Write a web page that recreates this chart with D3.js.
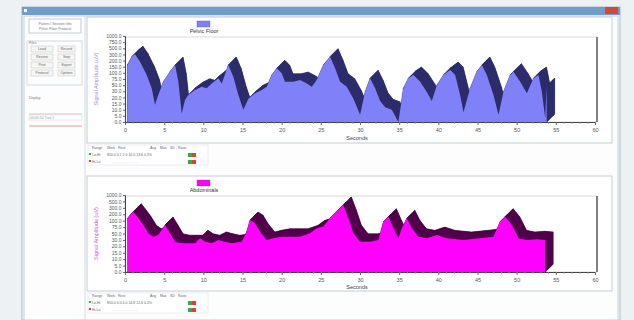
<!DOCTYPE html>
<html>
<head>
<meta charset="utf-8">
<script src="https://cdn.jsdelivr.net/npm/d3@7"></script>
<style>
  html, body { margin: 0; padding: 0; background: #eef1f4; }
  svg { display: block; font-family: "Liberation Sans", Arial, sans-serif; }
</style>
</head>
<body>
<svg id="chart" width="634" height="320"></svg>
<script>
// x axis (seconds)
const xTickValues = [0, 5, 10, 15, 20, 25, 30, 35, 40, 45, 50, 55, 60];

// pelvic floor channel
const pelvicTime = [0.3, 0.86, 1.28, 1.92, 2.77, 3.41, 3.83, 4.25, 4.89, 5.75,
  6.39, 6.81, 7.24, 7.66, 8.08, 8.94, 9.80, 10.43, 11.07, 11.92,
  12.35, 13.19, 13.83, 14.47, 15.11, 15.75, 16.60, 17.46, 18.10, 18.74,
  19.37, 20.01, 20.43, 21.49, 22.35, 23.21, 23.84, 24.48, 25.33, 26.18,
  26.82, 27.46, 28.31, 29.16, 30.01, 30.65, 31.29, 31.93, 32.57, 33.21,
  34.06, 34.90, 35.54, 36.18, 36.82, 37.68, 38.53, 39.17, 39.81, 40.65,
  41.51, 42.15, 42.78, 43.21, 44.06, 44.92, 45.56, 46.19, 47.04, 47.68,
  48.31, 49.17, 49.59, 50.45, 51.30, 52.15, 52.79, 53.22, 53.64, 53.83];
const pelvicValues = [164, 263, 304, 191, 91, 40, 14, 24, 64, 110,
  164, 64, 7, 18, 24, 34, 45, 40, 57, 78,
  57, 164, 84, 24, 10, 19, 27, 34, 45, 91,
  137, 98, 64, 64, 71, 57, 45, 71, 164, 263,
  137, 64, 45, 19, 6, 29, 78, 40, 17, 12,
  10, 0, 40, 78, 91, 64, 29, 17, 50, 91,
  123, 91, 24, 8, 40, 110, 164, 91, 24, 6,
  29, 91, 110, 64, 27, 78, 91, 29, 3, 47];
const pelvicYTicks = [0, 5, 10, 15, 20, 30, 50, 75, 100, 150, 200, 300, 500, 750, 1000];

// abdominal channel
const abdTime = [0.34, 0.64, 1.06, 1.70, 2.34, 2.98, 3.61, 4.25, 4.69, 5.11,
  5.75, 6.39, 7.24, 8.08, 8.94, 9.58, 10.22, 11.07, 11.92, 12.77,
  13.63, 14.90, 15.54, 15.96, 16.60, 17.24, 18.10, 18.94, 20.01, 21.07,
  22.35, 23.63, 24.48, 25.33, 26.18, 27.24, 27.88, 28.52, 29.16, 30.01,
  31.29, 32.35, 32.99, 33.63, 34.27, 34.90, 35.34, 35.98, 36.62, 37.46,
  38.53, 39.81, 41.08, 43.21, 45.34, 47.04, 47.89, 48.53, 49.39, 50.24,
  51.30, 52.58, 53.64];
const abdValues = [136, 188, 239, 136, 83, 51, 40, 45, 64, 83,
  51, 27, 25, 25, 25, 35, 27, 25, 30, 27,
  25, 27, 57, 110, 90, 57, 30, 35, 40, 40,
  40, 51, 70, 77, 136, 266, 388, 136, 51, 27,
  27, 30, 96, 161, 70, 35, 70, 136, 70, 40,
  35, 45, 35, 30, 35, 40, 96, 161, 83, 35,
  30, 32, 30];
const abdYTicks = [0, 5, 10, 15, 20, 30, 50, 75, 100, 200, 300, 500, 1000];

const tableHeaders = ['Range', 'Work', 'Rest', '', 'Avg', 'Max', 'SD', 'Ratio'];
const leftButtons = ['Load', 'Record', 'Review', 'Stop', 'Print', 'Export', 'Protocol', 'Options'];

const svg = d3.select('#chart');

// window chrome
svg.append('rect').attr('width', 634).attr('height', 320).attr('fill', '#eef1f4');
svg.append('rect').attr('x', 22).attr('y', 7).attr('width', 598).attr('height', 313)
  .attr('fill', '#fbfcfd').attr('stroke', '#a9bccd');
svg.append('rect').attr('x', 22).attr('y', 7).attr('width', 598).attr('height', 8).attr('fill', '#6f9ecd');
svg.append('rect').attr('x', 24).attr('y', 9).attr('width', 3).attr('height', 3).attr('fill', '#fff');
svg.append('rect').attr('x', 605).attr('y', 7).attr('width', 13).attr('height', 7).attr('fill', '#cc4a40');
svg.append('rect').attr('x', 24).attr('y', 16).attr('width', 594).attr('height', 304)
  .attr('fill', '#fdfdfe').attr('stroke', '#c2ced9');

// left control panel
const left = svg.append('g');
left.append('rect').attr('x', 29).attr('y', 19).attr('width', 52).attr('height', 14)
  .attr('fill', '#fff').attr('stroke', '#c4c9cf');
left.append('text').attr('x', 55).attr('y', 25).attr('text-anchor', 'middle')
  .attr('font-size', 3.5).attr('fill', '#777').text('Patient / Session Info');
left.append('text').attr('x', 55).attr('y', 30).attr('text-anchor', 'middle')
  .attr('font-size', 3.5).attr('fill', '#777').text('Pelvic Floor Protocol');
left.append('rect').attr('x', 27).attr('y', 41).attr('width', 55).attr('height', 44)
  .attr('fill', 'none').attr('stroke', '#d3d8de');
left.append('text').attr('x', 29).attr('y', 44).attr('font-size', 3.5).attr('fill', '#777').text('Files');
left.selectAll('g.btn').data(leftButtons).join('g').attr('class', 'btn')
  .each(function (d, i) {
    const col = i % 2, row = Math.floor(i / 2);
    const g = d3.select(this);
    const bx = col ? 58 : 31, bw = col ? 17 : 22, by = 46 + row * 8;
    g.append('rect').attr('x', bx).attr('y', by).attr('width', bw).attr('height', 6)
      .attr('fill', '#f6f6f2').attr('stroke', '#c8cbcf').attr('stroke-width', 0.6);
    g.append('text').attr('x', bx + bw / 2).attr('y', by + 4.2).attr('text-anchor', 'middle')
      .attr('font-size', 3.5).attr('fill', '#666').text(d);
  });
left.append('text').attr('x', 29).attr('y', 99).attr('font-size', 3.5).attr('fill', '#777').text('Display');
left.append('line').attr('x1', 29).attr('x2', 82).attr('y1', 114).attr('y2', 114).attr('stroke', '#c8c8c8');
left.append('rect').attr('x', 29).attr('y', 115).attr('width', 53).attr('height', 5)
  .attr('fill', '#fff').attr('stroke', '#d6d6d6').attr('stroke-width', 0.5);
left.append('text').attr('x', 30).attr('y', 119).attr('font-size', 3.5).attr('fill', '#999').text('00:00:54  Trial 1');
left.append('line').attr('x1', 29).attr('x2', 82).attr('y1', 126).attr('y2', 126).attr('stroke', '#e89a9a');
left.append('line').attr('x1', 85).attr('x2', 85).attr('y1', 16).attr('y2', 320).attr('stroke', '#d4dbe2');

const x = d3.scaleLinear().domain([0, 60]).range([125, 595]);
// depth of the 3d extrusion
const dx = 8, dy = 8;

function drawPanel(opts) {
  const g = svg.append('g');
  const { boxTop, boxBottom, plotTop, base, times, values, yTicks } = opts;

  g.append('rect').attr('x', 87).attr('y', boxTop).attr('width', 525).attr('height', boxBottom - boxTop)
    .attr('fill', '#fff').attr('stroke', '#c5cdd6');

  const yRange = yTicks.map((d, i) => base - i * (base - plotTop) / (yTicks.length - 1));
  const y = d3.scaleLinear().domain(yTicks).range(yRange);

  // plot box (3d wall)
  g.append('rect').attr('x', 125).attr('y', plotTop + 1).attr('width', 472).attr('height', base - plotTop - 1)
    .attr('fill', '#fff').attr('stroke', '#d0d0d0').attr('stroke-width', 0.8);
  g.append('line').attr('x1', 597).attr('x2', 597).attr('y1', plotTop + 1).attr('y2', base)
    .attr('stroke', '#555').attr('stroke-width', 1.4);

  // legend
  g.append('rect').attr('x', 197).attr('y', opts.legendY).attr('width', 13).attr('height', 6)
    .attr('fill', opts.front).attr('stroke', '#666').attr('stroke-width', 0.4);
  g.append('text').attr('x', 204).attr('y', opts.legendY + 12).attr('text-anchor', 'middle')
    .attr('font-size', 5.5).attr('fill', '#333').text(opts.name);

  // extruded area
  const pts = times.map((t, i) => [x(t), y(values[i])]);
  const poly = [[x(times[0]), base]].concat(pts, [[x(times[times.length - 1]), base]]);
  const line = d3.line().curve(d3.curveLinearClosed);
  const shifted = poly.map(p => [p[0] + dx, p[1] - dy]);
  const area = g.append('g');
  area.append('path').attr('d', line(shifted)).attr('fill', opts.back);
  const quads = d3.range(poly.length).map(i => {
    const a = poly[i], b = poly[(i + 1) % poly.length];
    return [a, b, [b[0] + dx, b[1] - dy], [a[0] + dx, a[1] - dy]];
  });
  area.selectAll('path.side').data(quads).join('path').attr('class', 'side')
    .attr('d', q => line(q)).attr('fill', opts.back).attr('stroke', opts.back).attr('stroke-width', 0.5);
  area.append('path').attr('d', line(poly)).attr('fill', opts.front);

  // axes
  const xAxis = g.append('g').attr('transform', `translate(0,${base})`)
    .call(d3.axisBottom(x).tickValues(xTickValues).tickSize(3).tickPadding(3).tickFormat(d3.format('d')));
  g.append('g').attr('transform', `translate(0,${base})`)
    .call(d3.axisBottom(x).tickValues(d3.range(0, 61, 1)).tickSize(1.5).tickFormat(''))
    .call(a => a.select('.domain').remove())
    .selectAll('line').attr('stroke', '#777');
  xAxis.select('.domain').attr('stroke', '#444');
  xAxis.selectAll('text').attr('font-size', 5.5).attr('fill', '#555');
  xAxis.selectAll('line').attr('stroke', '#666');
  g.append('text').attr('x', 357).attr('y', opts.secondsY).attr('text-anchor', 'middle')
    .attr('font-size', 5.5).attr('fill', '#444').text('Seconds');

  const yAxis = g.append('g').attr('transform', 'translate(125,0)')
    .call(d3.axisLeft(y).tickValues(yTicks).tickSize(2).tickPadding(1.5).tickFormat(d3.format('.1f')));
  yAxis.select('.domain').attr('stroke', '#444');
  yAxis.selectAll('text').attr('font-size', 5).attr('fill', '#555');
  yAxis.selectAll('line').attr('stroke', '#666');
  g.append('text').attr('transform', `translate(98,${(plotTop + base) / 2}) rotate(-90)`)
    .attr('text-anchor', 'middle').attr('font-size', 5.5).attr('fill', opts.titleColor)
    .text('Signal Amplitude (uV)');

  // stats table
  const tY = opts.tableY;
  g.append('rect').attr('x', 88).attr('y', tY - 4).attr('width', 120).attr('height', 20)
    .attr('fill', '#fff').attr('stroke', '#dde2e7').attr('stroke-width', 0.6);
  g.selectAll('text.th').data(tableHeaders).join('text').attr('class', 'th')
    .attr('x', (d, i) => [92, 107, 118, 130, 150, 160, 170, 178][i]).attr('y', tY)
    .attr('font-size', 3.5).attr('fill', '#666').text(d => d);
  g.append('text').attr('x', 92).attr('y', tY + 7).attr('font-size', 3.5).attr('fill', '#666')
    .text('Lo-Hi');
  g.append('text').attr('x', 107).attr('y', tY + 7).attr('font-size', 3.5).attr('fill', '#666')
    .text(opts.row1);
  g.append('text').attr('x', 92).attr('y', tY + 14).attr('font-size', 3.5).attr('fill', '#666')
    .text('Hi-Lo');
  g.append('text').attr('x', 112).attr('y', tY + 14).attr('font-size', 3.5).attr('fill', '#aaa')
    .text('- - -        - - -   - - -   - - -');
  [tY + 4, tY + 11].forEach(ry => {
    g.append('rect').attr('x', 188).attr('y', ry).attr('width', 4).attr('height', 4).attr('fill', '#3aa845');
    g.append('rect').attr('x', 192).attr('y', ry).attr('width', 4).attr('height', 4).attr('fill', '#e0403a');
  });
  g.append('rect').attr('x', 89).attr('y', tY + 4).attr('width', 2).attr('height', 2).attr('fill', '#3aa845');
  g.append('rect').attr('x', 89).attr('y', tY + 11).attr('width', 2).attr('height', 2).attr('fill', '#e0403a');
}

drawPanel({
  boxTop: 17, boxBottom: 143, plotTop: 36, base: 122, legendY: 21,
  times: pelvicTime, values: pelvicValues, yTicks: pelvicYTicks,
  front: '#8080f8', back: '#2c2c6a', name: 'Pelvic Floor', titleColor: '#9898d0',
  secondsY: 140, tableY: 149, row1: '850.0    0.1         2.0   10.0    13.6   0.5%'
});

drawPanel({
  boxTop: 176, boxBottom: 291, plotTop: 195, base: 272, legendY: 180,
  times: abdTime, values: abdValues, yTicks: abdYTicks,
  front: '#ff00ff', back: '#4e0048', name: 'Abdominals', titleColor: '#c864c8',
  secondsY: 289, tableY: 297, row1: '850.0    0.0         4.0   14.8   12.6   0.2%'
});
</script>
</body>
</html>
